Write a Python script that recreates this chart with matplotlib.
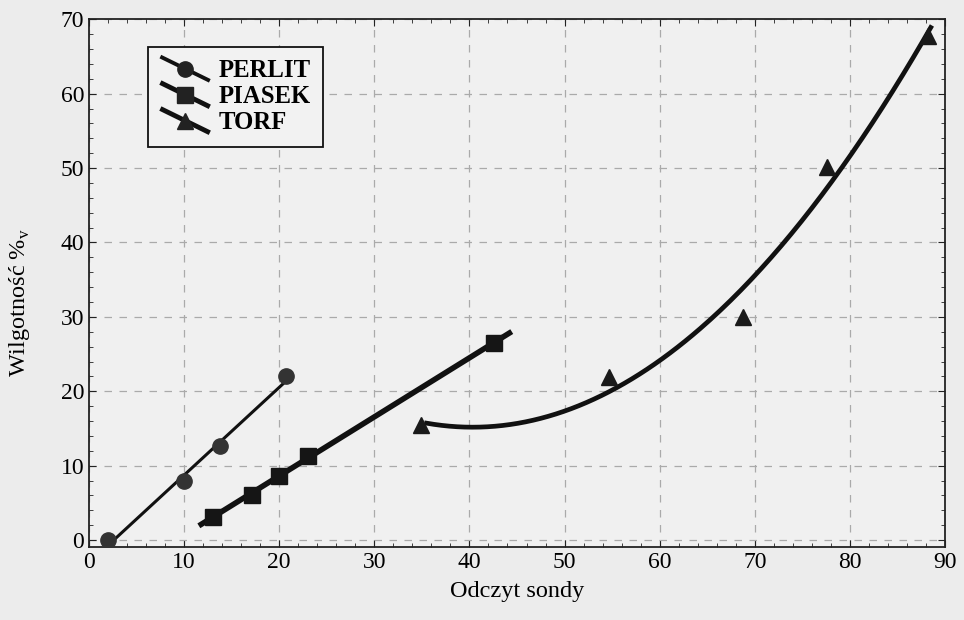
import numpy as np
import matplotlib
matplotlib.use('Agg')
from matplotlib import pyplot as plt
from matplotlib.lines import Line2D
from matplotlib.legend_handler import HandlerLine2D
from matplotlib.ticker import MultipleLocator

plt.rcParams['font.family'] = ['Liberation Serif', 'DejaVu Serif']

# data
perlit_x = [2.0, 10.0, 13.8, 20.7]
perlit_y = [0.0, 7.9, 12.6, 22.1]

piasek_x = [13.0, 17.1, 20.0, 23.0, 42.6]
piasek_y = [3.1, 6.1, 8.6, 11.3, 26.5]

torf_x = [34.9, 54.7, 68.8, 77.6, 88.2]
torf_y = [15.5, 21.9, 30.0, 50.2, 67.7]

x_ticks = [0, 10, 20, 30, 40, 50, 60, 70, 80, 90]
y_ticks = [0, 10, 20, 30, 40, 50, 60, 70]


class SlantHandler(HandlerLine2D):
    # legend line drawn on a slant, marker in the middle
    def create_artists(self, legend, orig_handle, xdescent, ydescent,
                       width, height, fontsize, trans):
        x0, x1 = -xdescent, -xdescent + width
        y0, y1 = -ydescent + height * 1.2, -ydescent - height * 0.2
        ln = Line2D([x0, x1], [y0, y1], color='#111111',
                    lw=orig_handle.get_linewidth(), solid_capstyle='butt')
        mk = Line2D([(x0 + x1) / 2], [(y0 + y1) / 2],
                    marker=orig_handle.get_marker(),
                    markersize=orig_handle.get_markersize(),
                    color='#222222', linestyle='none')
        ln.set_transform(trans)
        mk.set_transform(trans)
        return [ln, mk]


bg = '#ececec'
fig = plt.figure(figsize=(9.64, 6.2), dpi=100, facecolor=bg)
ax = fig.add_axes([0.0923, 0.118, 0.888, 0.851])
ax.set_facecolor('#f0f0f0')

# PERLIT - linear fit
a, b = np.polyfit(perlit_x, perlit_y, 1)
xx = np.linspace(min(perlit_x), max(perlit_x), 50)
ax.plot(xx, a * xx + b, color='#111111', lw=2.2, zorder=3)
ax.plot(perlit_x, perlit_y, 'o', color='#333333', ms=11, zorder=4)

# PIASEK - linear fit
a, b = np.polyfit(piasek_x, piasek_y, 1)
xx = np.linspace(min(piasek_x) - 1.2, max(piasek_x) + 1.6, 50)
ax.plot(xx, a * xx + b, color='#111111', lw=4, zorder=3)
ax.plot(piasek_x, piasek_y, 's', color='#151515', ms=11, zorder=4)

# TORF - quadratic fit
c = np.polyfit(torf_x, torf_y, 2)
xx = np.linspace(min(torf_x) + 0.6, max(torf_x) + 0.3, 200)
ax.plot(xx, np.polyval(c, xx), color='#111111', lw=3.4, zorder=3)
ax.plot(torf_x, torf_y, '^', color='#1a1a1a', ms=11, zorder=4)

ax.set_xlim(0, 90)
ax.set_ylim(-0.9, 70)
ax.set_xticks(x_ticks)
ax.set_yticks(y_ticks)
ax.xaxis.set_minor_locator(MultipleLocator(2))
ax.yaxis.set_minor_locator(MultipleLocator(2))
ax.tick_params(which='both', direction='in', top=True, right=True,
               labelsize=17, color='#222222')
ax.tick_params(which='major', length=5)
ax.tick_params(which='minor', length=3)
ax.grid(True, which='major', color='#aaaaaa', linestyle=(0, (6, 6)), lw=0.9)
for s in ax.spines.values():
    s.set_color('#222222')
    s.set_linewidth(1.3)

ax.set_xlabel('Odczyt sondy', fontsize=17.5, labelpad=6)
ax.set_ylabel('Wilgotność %$_\\mathregular{v}$', fontsize=17.5)
ax.yaxis.set_label_coords(-0.066, 0.462)

handles = [Line2D([], [], marker='o', lw=2.8, ms=11),
           Line2D([], [], marker='s', lw=3.5, ms=11),
           Line2D([], [], marker='^', lw=3.5, ms=11)]
leg = fig.legend(handles, ['PERLIT', 'PIASEK', 'TORF'],
                 loc='upper left', bbox_to_anchor=(148 / 964, 1 - 47 / 620),
                 borderaxespad=0, handlelength=2.0, handletextpad=0.35,
                 labelspacing=0.12, borderpad=0.5, fancybox=False,
                 framealpha=1, facecolor='#f2f2f2', edgecolor='#111111',
                 prop={'weight': 'bold', 'size': 17.8},
                 handler_map={Line2D: SlantHandler()})
leg.get_frame().set_linewidth(1.3)

plt.savefig('out.png', dpi=100, facecolor=bg)
